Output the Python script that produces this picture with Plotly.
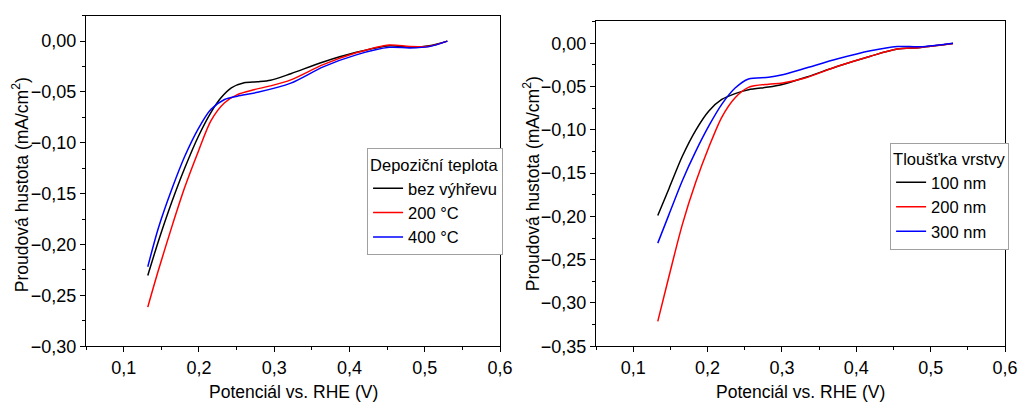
import plotly.graph_objects as go

# ---- Left panel: deposition temperature ----
left_x_black = [0.132, 0.146, 0.164, 0.181, 0.199, 0.216, 0.229, 0.243, 0.260, 0.278, 0.295, 0.322, 0.365, 0.409, 0.453, 0.480, 0.506, 0.530]
left_y_black = [-0.2305, -0.197, -0.158, -0.125, -0.094, -0.070, -0.056, -0.046, -0.041, -0.040, -0.0385, -0.032, -0.0205, -0.011, -0.0045, -0.006, -0.0045, 0.0]

left_x_red = [0.132, 0.146, 0.164, 0.181, 0.199, 0.216, 0.234, 0.251, 0.273, 0.295, 0.322, 0.365, 0.409, 0.453, 0.480, 0.506, 0.530]
left_y_red = [-0.2615, -0.2256, -0.1824, -0.144, -0.1087, -0.0782, -0.0606, -0.0526, -0.0478, -0.044, -0.0381, -0.0231, -0.0115, -0.0038, -0.0053, -0.005, 0.0]

left_x_blue = [0.132, 0.146, 0.164, 0.181, 0.199, 0.216, 0.234, 0.251, 0.278, 0.322, 0.365, 0.409, 0.453, 0.480, 0.506, 0.530]
left_y_blue = [-0.2218, -0.184, -0.1455, -0.1135, -0.0862, -0.067, -0.0574, -0.0541, -0.0503, -0.0413, -0.0253, -0.0135, -0.0061, -0.0067, -0.0054, 0.0]

left_names = ["bez výhřevu", "200 °C", "400 °C"]
left_legend_title = "Depoziční teplota"

# ---- Right panel: layer thickness ----
right_x = [0.133, 0.148, 0.166, 0.184, 0.202, 0.219, 0.237, 0.255, 0.282, 0.299, 0.330, 0.375, 0.419, 0.455, 0.486, 0.530]
right_y_black = [-0.199, -0.168, -0.1306, -0.1006, -0.078, -0.065, -0.0582, -0.0537, -0.0507, -0.048, -0.040, -0.0266, -0.015, -0.0068, -0.0049, -0.0004]
right_y_red = [-0.3213, -0.2695, -0.2095, -0.1607, -0.1194, -0.0856, -0.063, -0.051, -0.0473, -0.0462, -0.0405, -0.0266, -0.015, -0.0068, -0.0049, -0.0004]
right_y_blue = [-0.2309, -0.198, -0.1588, -0.125, -0.095, -0.0706, -0.0518, -0.0413, -0.0394, -0.0368, -0.0293, -0.018, -0.0087, -0.0038, -0.0041, 0.0]

right_names = ["100 nm", "200 nm", "300 nm"]
right_legend_title = "Tloušťka vrstvy"

x_title = "Potenciál vs. RHE (V)"
y_title = "Proudová hustota (mA/cm<sup>2</sup>)"

colors = ["#000000", "#ff0000", "#0000ff"]
FONT = "Liberation Sans, Arial, sans-serif"
W, H = 1030, 410
TFS = 18     # tick labels
AFS = 17.5   # axis titles
LFS = 16.5   # legend

fig = go.Figure()

left_series = [(left_x_black, left_y_black), (left_x_red, left_y_red), (left_x_blue, left_y_blue)]
for (xs, ys), name, c in zip(left_series, left_names, colors):
    fig.add_trace(go.Scatter(x=xs, y=ys, mode="lines", name=name,
                             line=dict(color=c, width=1.5, shape="spline", smoothing=0.8),
                             xaxis="x", yaxis="y", legend="legend"))

right_series = [right_y_black, right_y_red, right_y_blue]
for ys, name, c in zip(right_series, right_names, colors):
    fig.add_trace(go.Scatter(x=right_x, y=ys, mode="lines", name=name,
                             line=dict(color=c, width=1.5, shape="spline", smoothing=0.8),
                             xaxis="x2", yaxis="y2", legend="legend2"))

def xaxis(domain, anchor):
    return dict(domain=domain, anchor=anchor, range=[0.0499, 0.6001],
                tick0=0.1, dtick=0.1, tickformat=".1f",
                ticks="outside", ticklen=5, tickwidth=1.2, tickcolor="black",
                minor=dict(ticks="outside", ticklen=3, tickwidth=1.2, tickcolor="black", dtick=0.05, tick0=0.05),
                showline=True, linecolor="black", linewidth=1.3, mirror=True,
                showgrid=False, zeroline=False,
                tickfont=dict(family=FONT, size=TFS, color="black"))

def yaxis(domain, anchor, lo):
    return dict(domain=domain, anchor=anchor, range=[lo - 0.0001, 0.0251],
                tick0=0.0, dtick=0.05, tickformat=".2f",
                ticks="outside", ticklen=5, tickwidth=1.2, tickcolor="black",
                minor=dict(ticks="outside", ticklen=3, tickwidth=1.2, tickcolor="black", dtick=0.025, tick0=0.025),
                showline=True, linecolor="black", linewidth=1.3, mirror=True,
                showgrid=False, zeroline=False,
                tickfont=dict(family=FONT, size=TFS, color="black"))

y_bottom = (H - 355) / H

legend_common = dict(xanchor="right", yanchor="middle",
                     bgcolor="white", bordercolor="#a0a0a0", borderwidth=1,
                     font=dict(family=FONT, size=LFS, color="black"),
                     tracegroupgap=0)

fig.update_layout(
    width=W, height=H,
    margin=dict(l=0, r=0, t=0, b=0),
    paper_bgcolor="white", plot_bgcolor="white",
    separators=", ",
    font=dict(family=FONT, size=AFS, color="black"),
    xaxis=xaxis([87 / W, 506 / W], "y"),
    yaxis=yaxis([y_bottom, (H - 16) / H], "x", -0.30),
    xaxis2=xaxis([603 / W, 1017 / W], "y2"),
    yaxis2=yaxis([y_bottom, (H - 22) / H], "x2", -0.35),
    legend=dict(x=509 / W, y=(H - 207) / H,
                title=dict(text=left_legend_title, font=dict(family=FONT, size=LFS, color="black")),
                **legend_common),
    legend2=dict(x=1021 / W, y=(H - 201) / H,
                 title=dict(text=right_legend_title, font=dict(family=FONT, size=LFS, color="black")),
                 **legend_common),
    showlegend=True,
)

ann_font = dict(family=FONT, size=AFS, color="black")
fig.add_annotation(text=x_title, xref="paper", yref="paper", x=(87 + 506) / 2 / W, y=(H - 402) / H,
                   xanchor="center", yanchor="middle", showarrow=False, font=ann_font)
fig.add_annotation(text=x_title, xref="paper", yref="paper", x=(603 + 1017) / 2 / W, y=(H - 402) / H,
                   xanchor="center", yanchor="middle", showarrow=False, font=ann_font)
fig.add_annotation(text=y_title, xref="paper", yref="paper", x=21 / W, y=(H - 189) / H,
                   xanchor="center", yanchor="middle", showarrow=False, textangle=-90, font=ann_font)
fig.add_annotation(text=y_title, xref="paper", yref="paper", x=538 / W, y=(H - 188) / H,
                   xanchor="center", yanchor="middle", showarrow=False, textangle=-90, font=ann_font)

fig.write_html("out.html")
